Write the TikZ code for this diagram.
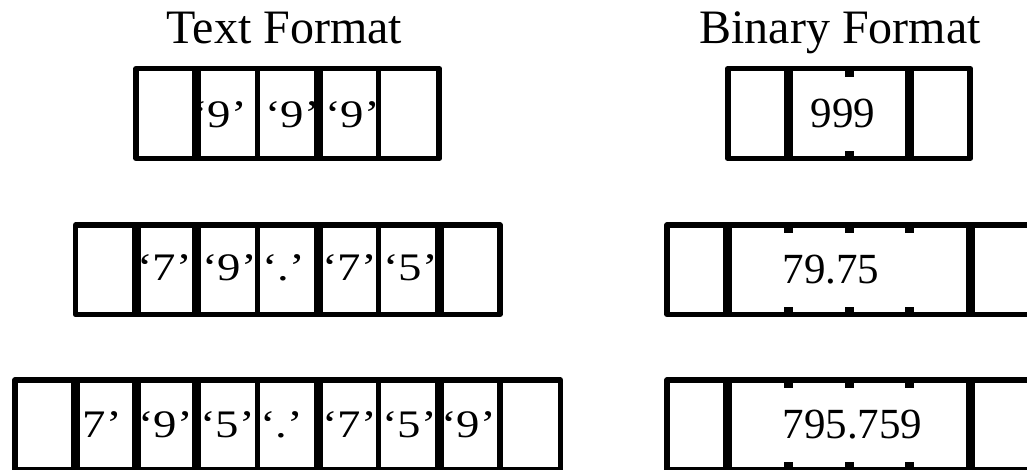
\documentclass[tikz,border=0pt]{standalone}
\usepackage{fontspec}
\setmainfont{Liberation Serif}
\usepackage{graphicx}
\usetikzlibrary{positioning}

\newcommand{\widechar}[1]{\scalebox{1.2}[1]{#1}}

\begin{document}
\begin{tikzpicture}[
    x=1pt, y=-1pt,
    frame/.style={draw, line width=5.5pt, line join=round},
    wall/.style={line width=5.5pt},
    thick wall/.style={line width=9pt},
    tick/.style={line width=9pt},
    title/.style={font=\fontsize{48}{52}\selectfont, anchor=base, inner sep=0pt},
    char/.style={font=\fontsize{39}{42}\selectfont, anchor=base west, inner sep=0pt},
    value/.style={font=\fontsize{43}{46}\selectfont, anchor=base west, inner sep=0pt}
  ]
  \useasboundingbox (0,0) rectangle (1027,469);

  % Titles
  \node[title] (text_title) at (284.5,43) {Text Format};
  \node[title] (binary_title) at (840,43) {Binary Format};

  % Text format characters
  \node[char] (r1_c1) at (192,127) {\widechar{‘9’}};
  \node[char] (r1_c2) at (265,127) {\widechar{‘9’}};
  \node[char] (r1_c3) at (325,127) {\widechar{‘9’}};

  \node[char] (r2_c1) at (137,280) {\widechar{‘7’}};
  \node[char] (r2_c2) at (202,280) {\widechar{‘9’}};
  \node[char] (r2_c3) at (262,280) {\widechar{‘.’}};
  \node[char] (r2_c4) at (322,280) {\widechar{‘7’}};
  \node[char] (r2_c5) at (383,280) {\widechar{‘5’}};

  \node[char] (r3_c1) at (67,437) {\widechar{‘7’}};
  \node[char] (r3_c2) at (138,437) {\widechar{‘9’}};
  \node[char] (r3_c3) at (200,437) {\widechar{‘5’}};
  \node[char] (r3_c4) at (260,437) {\widechar{‘.’}};
  \node[char] (r3_c5) at (322,437) {\widechar{‘7’}};
  \node[char] (r3_c6) at (382,437) {\widechar{‘5’}};
  \node[char] (r3_c7) at (441,437) {\widechar{‘9’}};

  % Text format cells
  \draw[frame] (136.2,68.5) rectangle (439.2,158.5);
  \draw[thick wall] (196.8,68.5) -- (196.8,158.5) (318,68.5) -- (318,158.5);
  \draw[wall] (257.4,68.5) -- (257.4,158.5) (378.6,68.5) -- (378.6,158.5);

  \draw[frame] (75.6,225) rectangle (499.8,314.5);
  \draw[thick wall] (136.2,225) -- (136.2,314.5) (196.8,225) -- (196.8,314.5)
    (318,225) -- (318,314.5) (439.2,225) -- (439.2,314.5);
  \draw[wall] (257.4,225) -- (257.4,314.5) (378.6,225) -- (378.6,314.5);

  \draw[frame] (15,380) rectangle (560.4,470);
  \draw[thick wall] (75.6,380) -- (75.6,470) (136.2,380) -- (136.2,470)
    (196.8,380) -- (196.8,470) (318,380) -- (318,470) (439.2,380) -- (439.2,470);
  \draw[wall] (257.4,380) -- (257.4,470) (378.6,380) -- (378.6,470)
    (499.8,380) -- (499.8,470);

  % Binary format values
  \node[value] (bin_r1) at (810.5,127.3) {999};
  \node[value] (bin_r2) at (782.5,283.3) {79.75};
  \node[value] (bin_r3) at (782.5,438.3) {795.759};

  % Binary format cells
  \draw[frame] (727.8,68.5) rectangle (970.2,158.5);
  \draw[thick wall] (788.4,68.5) -- (788.4,158.5) (909.6,68.5) -- (909.6,158.5);
  \draw[tick] (849,68.5) -- (849,76.5) (849,158.5) -- (849,150.5);

  \draw[frame] (667.2,225) rectangle (1030.8,314.5);
  \draw[thick wall] (727.8,225) -- (727.8,314.5) (970.2,225) -- (970.2,314.5);
  \draw[tick] (788.4,225) -- (788.4,233) (849,225) -- (849,233) (909.6,225) -- (909.6,233)
    (788.4,314.5) -- (788.4,306.5) (849,314.5) -- (849,306.5) (909.6,314.5) -- (909.6,306.5);

  \draw[frame] (667.2,380) rectangle (1030.8,470);
  \draw[thick wall] (727.8,380) -- (727.8,470) (970.2,380) -- (970.2,470);
  \draw[tick] (788.4,380) -- (788.4,388) (849,380) -- (849,388) (909.6,380) -- (909.6,388)
    (788.4,470) -- (788.4,462) (849,470) -- (849,462) (909.6,470) -- (909.6,462);

\end{tikzpicture}
\end{document}
